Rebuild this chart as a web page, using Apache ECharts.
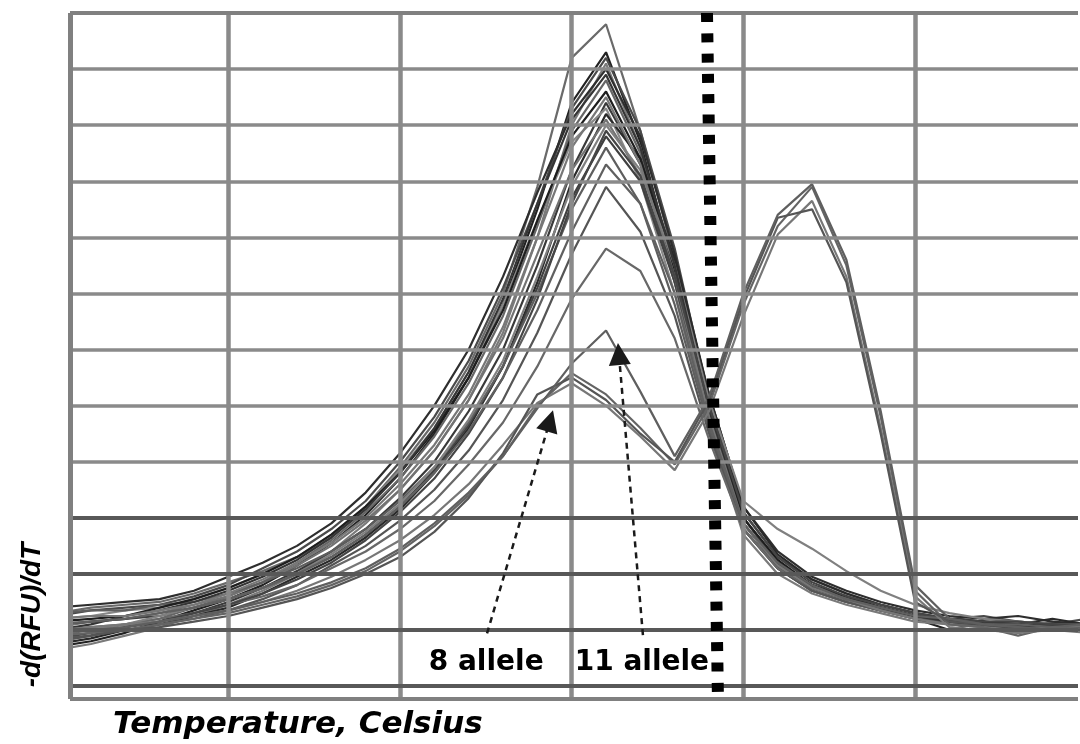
<!DOCTYPE html>
<html>
<head>
<meta charset="utf-8">
<script src="https://cdn.jsdelivr.net/npm/echarts@6/dist/echarts.min.js"></script>
<style>
  html, body { margin: 0; padding: 0; background: #ffffff; }
  #chart { width: 1080px; height: 744px; }
</style>
</head>
<body>
<div id="chart"></div>
<script>
// Melt-curve derivative traces, -d(RFU)/dT against temperature (°C), one reading every 0.2 °C.
const temperatures = [79.0, 79.2, 79.4, 79.6, 79.8, 80.0, 80.2, 80.4, 80.6, 80.8,
                      81.0, 81.2, 81.4, 81.6, 81.8, 82.0, 82.2, 82.4, 82.6, 82.8,
                      83.0, 83.2, 83.4, 83.6, 83.8, 84.0, 84.2, 84.4, 84.6, 84.8, 85.0];

// Single-peak traces (main product melting near 82.2 °C)
const traceM1  = [13, 14, 14.5, 15, 16.5, 18.5, 20.5, 23, 26.5, 32, 39, 47, 57, 70, 89, 112, 118, 99, 76, 50, 30, 22, 18, 16, 14, 12.5, 12, 11.5, 10, 11.5, 11];
const traceM2  = [7, 8, 9.5, 11.5, 13.5, 15.5, 18, 21.5, 25.5, 30.5, 37, 45, 55, 68, 85, 104, 113, 97, 74, 47, 28, 21, 17, 15, 13.5, 12, 10, 11.5, 9.5, 11, 10.5];
const traceM3  = [12.5, 13.5, 14, 14.5, 16, 18, 21, 24, 28, 33, 40, 48, 58, 71, 86, 103, 112, 99, 78, 51, 31, 23, 19, 16.5, 14.5, 13, 12, 12.5, 11.5, 11, 12];
const traceM4  = [6.5, 7.5, 9, 10.5, 12.5, 14.5, 17, 20, 24, 29, 35, 42, 51, 63, 80, 100, 111, 96, 72, 46, 27, 20, 16.5, 14.5, 13, 11.5, 11, 10.5, 9.5, 10.5, 9.5];
const traceM5  = [14, 14.5, 15, 15.5, 17, 19.5, 22, 25, 29, 34.5, 41.5, 50, 60, 73, 88, 102, 110, 98, 77, 52, 32, 24, 19.5, 17, 15, 13.5, 12.5, 12, 12.5, 11.5, 11];
const traceM6  = [9, 10, 11, 12, 14, 16, 18.5, 22, 26, 31, 37, 44.5, 54, 66, 82, 99, 108, 95, 73, 48, 29, 21.5, 17.5, 15.5, 14, 12.5, 11.5, 11, 11, 10, 10.5];
const traceM7  = [8, 9, 10.5, 11.5, 13, 15, 17.5, 20.5, 24, 28, 33.5, 40, 49, 60, 75, 92, 104, 93, 74, 49, 30, 22, 18, 15.5, 14, 12.5, 11.5, 10.5, 10.5, 11, 10];
const traceM8  = [12, 12.5, 13.5, 14, 15.5, 17.5, 20, 23, 27, 32, 38.5, 46, 56, 68, 83, 97, 103, 90, 70, 46, 28, 21, 17, 15, 13.5, 12, 11.5, 11, 11.5, 11, 10.5];
const traceM9  = [7.5, 8.5, 10, 11, 12.5, 14, 16.5, 19.5, 22.5, 26.5, 31.5, 38, 46, 57, 72, 90, 102, 94, 76, 52, 32, 23.5, 19, 16.5, 14.5, 13, 12, 11.5, 11, 12, 11];
const traceM10 = [10.5, 11.5, 12, 13, 14.5, 16, 18.5, 21.5, 25, 29.5, 35, 42, 51, 62, 77, 92, 101, 91, 72, 48, 29, 21.5, 17.5, 15.5, 14, 12.5, 11.5, 11, 10.5, 10.5, 10];
const traceM11 = [11, 11.5, 12, 12.5, 14, 15.5, 17.5, 20, 23, 27, 32, 38.5, 46.5, 57, 71, 87, 98, 90, 72, 49, 30, 22, 18, 15.5, 14, 12.5, 11.5, 11, 11, 10.5, 10.5];
const traceM12 = [13, 13.5, 13.5, 14.5, 15, 16.5, 18.5, 21, 24, 28, 33, 39, 47, 57, 70, 85, 96, 86, 68, 46, 28, 21, 17, 15, 13.5, 12.5, 11.5, 11, 11, 11, 10.5];
const traceM13 = [8, 9, 10, 11, 12, 13.5, 15.5, 18, 21.5, 25, 29.5, 35, 42, 51, 63, 77, 89, 81, 66, 45, 28, 21, 17, 15, 13.5, 12, 11.5, 11, 10.5, 10.5, 10.5];
const traceM14 = [10, 10.5, 11, 12, 13, 14.5, 16, 18, 21, 24, 28, 33, 39.5, 47, 57, 69, 78, 74, 62, 44, 28, 21, 17.5, 15.5, 14, 12.5, 12, 11.5, 11, 11, 11];
const traceM15 = [11.5, 12, 12.5, 14, 15.5, 17.5, 20, 23, 27, 32, 38, 45.5, 55, 67, 83, 98, 106, 94, 74, 50, 30, 22.5, 18, 16, 14, 12.5, 12, 11.5, 11, 11, 11];
const traceM16 = [9.5, 10, 11, 12.5, 14, 15.5, 17.5, 20, 23.5, 27.5, 32.5, 39, 47.5, 58, 73, 89, 100, 92, 75, 51, 33, 28, 24.5, 20.5, 17, 14.5, 13, 12, 11.5, 11, 11];
const traceM17 = [10, 11, 12.5, 13.5, 15, 17, 19.5, 22.5, 26.5, 31.5, 38, 46, 56, 69, 86, 101, 109, 96, 75, 49, 29, 21.5, 17.5, 15.5, 14, 12.5, 11.5, 11, 10.5, 11, 10.5];
const traceM18 = [12, 12.5, 12.5, 13.5, 14.5, 16.5, 19, 22, 25.5, 30, 36, 43, 52, 64, 80, 96, 105, 93, 73, 48, 29, 21.5, 17.5, 15.5, 13.5, 12, 11, 10.5, 10, 10.5, 10.5];
const traceM19 = [8.5, 9.5, 10.5, 11.5, 13, 14.5, 16.5, 19, 22, 26, 31, 37, 45, 55, 69, 86, 99, 91, 73, 50, 31, 23, 18.5, 16, 14.5, 13, 12, 11.5, 11.5, 11, 11];
const traceM20 = [11, 11.5, 12, 13, 14, 15.5, 17.5, 20, 23, 27, 32, 38, 45.5, 55, 67, 81, 93, 86, 70, 47, 29, 22, 18, 15.5, 14, 12.5, 12, 11, 11, 10.5, 11];

// Two-peak traces: 8-allele and 11-allele products with a second peak near 83.4 °C
const trace8a  = [9, 9.5, 10, 11, 12, 13, 14.5, 16, 18, 20.5, 24, 28.5, 34, 41, 50, 55.8, 52, 46, 39.5, 50, 68, 82, 89, 75, 48, 17, 11, 10.5, 9, 10.5, 10];
const trace8b  = [10, 10.5, 11, 11.5, 12.5, 13.5, 15, 17, 19.5, 22.5, 26, 30.5, 36, 43, 50.5, 54, 50, 44.5, 38.5, 49, 66, 80.5, 86.5, 73, 46, 16, 10.5, 10, 9.5, 10, 9.5];
const trace8c  = [8.5, 9, 10, 10.5, 11.5, 12.5, 14, 15.5, 17.5, 20, 23, 27.5, 33.5, 41.5, 52, 55, 51, 45, 40, 51, 69, 83.5, 85, 72, 45, 15, 11.5, 11, 10.5, 10, 10];
const trace11  = [9.5, 10, 10.5, 11.5, 12.5, 13.5, 15, 16.5, 18.5, 21, 24.5, 29, 34.5, 41, 49.5, 57.5, 63.4, 52.5, 41, 51.5, 70, 84, 89.5, 76, 49, 18, 12, 11, 10.5, 10, 10.5];

const traces = [
  { values: traceM1,  color: '#6a6a6a' },
  { values: traceM2,  color: '#222222' },
  { values: traceM3,  color: '#4a4a4a' },
  { values: traceM4,  color: '#7a7a7a' },
  { values: traceM5,  color: '#2e2e2e' },
  { values: traceM6,  color: '#666666' },
  { values: traceM7,  color: '#3a3a3a' },
  { values: traceM8,  color: '#888888' },
  { values: traceM9,  color: '#2a2a2a' },
  { values: traceM10, color: '#727272' },
  { values: traceM11, color: '#404040' },
  { values: traceM12, color: '#5e5e5e' },
  { values: traceM13, color: '#555555' },
  { values: traceM14, color: '#686868' },
  { values: traceM15, color: '#1e1e1e' },
  { values: traceM16, color: '#808080' },
  { values: traceM17, color: '#353535' },
  { values: traceM18, color: '#777777' },
  { values: traceM19, color: '#454545' },
  { values: traceM20, color: '#606060' },
  { values: trace8a,  color: '#646464' },
  { values: trace8b,  color: '#777777' },
  { values: trace8c,  color: '#555555' },
  { values: trace11,  color: '#5f5f5f' }
];

// Grid rulings
const gridTemps = [80, 81, 82, 83, 84];
const gridLevelsLight = [40, 50, 60, 70, 80, 90, 100, 110];
const gridLevelsDark = [0, 10, 20, 30];

// Annotation texts
const alleleLabels = ['8 allele', '11 allele'];

const X_MIN = 79.078, X_MAX = 84.949;
const Y_MIN = -2.3, Y_MAX = 120;

const series = [];

// rulings and frame
const ruleData = [];
gridTemps.forEach(t => ruleData.push({ xAxis: t, lineStyle: { color: '#8a8a8a', width: 4.5, type: 'solid' } }));
gridLevelsLight.forEach(v => ruleData.push({ yAxis: v, lineStyle: { color: '#8a8a8a', width: 3.5, type: 'solid' } }));
gridLevelsDark.forEach(v => ruleData.push({ yAxis: v, lineStyle: { color: '#585858', width: 4, type: 'solid' } }));
ruleData.push({ yAxis: Y_MAX, lineStyle: { color: '#808080', width: 4, type: 'solid' } });
ruleData.push({ yAxis: Y_MIN, lineStyle: { color: '#808080', width: 4, type: 'solid' } });
ruleData.push({ xAxis: X_MIN, lineStyle: { color: '#808080', width: 5, type: 'solid' } });
ruleData.push({ xAxis: X_MAX, lineStyle: { color: '#808080', width: 3, type: 'solid' } });

series.push({
  type: 'line',
  data: [],
  z: 1,
  silent: true,
  markLine: {
    silent: true,
    animation: false,
    symbol: 'none',
    label: { show: false },
    emphasis: { disabled: true },
    data: ruleData
  }
});

traces.forEach((tr, k) => {
  series.push({
    type: 'line',
    name: 'trace' + k,
    data: temperatures.map((t, i) => [t, tr.values[i]]),
    showSymbol: false,
    smooth: false,
    silent: true,
    z: 3,
    lineStyle: { color: tr.color, width: 2.2 },
    emphasis: { disabled: true }
  });
});

// thick dotted marker line and the allele annotations
series.push({
  type: 'line',
  data: [],
  z: 5,
  silent: true,
  markLine: {
    silent: true,
    animation: false,
    label: { show: false },
    emphasis: { disabled: true },
    data: [
      [
        { coord: [82.788, Y_MAX], symbol: 'none', lineStyle: { color: '#000000', width: 12, type: [9, 11.3], cap: 'butt' } },
        { coord: [82.852, Y_MIN], symbol: 'none' }
      ],
      [
        { coord: [81.507, 9.4], symbol: 'none', lineStyle: { color: '#1a1a1a', width: 2.5, type: [6, 5] } },
        { coord: [81.873, 47.3], symbol: 'triangle', symbolSize: 22 }
      ],
      [
        { coord: [82.415, 9.1], symbol: 'none', lineStyle: { color: '#1a1a1a', width: 2.5, type: [6, 5] } },
        { coord: [82.275, 59.2], symbol: 'triangle', symbolSize: 22 }
      ]
    ]
  },
  markPoint: {
    silent: true,
    animation: false,
    symbol: 'circle',
    symbolSize: 0,
    label: {
      show: true,
      position: 'inside',
      formatter: '{b}',
      color: '#000000',
      fontFamily: 'DejaVu Sans',
      fontWeight: 'bold',
      fontSize: 28
    },
    data: [
      { name: alleleLabels[0], coord: [81.502, 4.1] },
      { name: alleleLabels[1], coord: [82.409, 4.1] }
    ]
  }
});

const chart = echarts.init(document.getElementById('chart'), null, { renderer: 'canvas' });
chart.setOption({
  animation: false,
  backgroundColor: '#ffffff',
  grid: { left: 70, right: 2, top: 13, bottom: 45 },
  xAxis: {
    type: 'value', min: X_MIN, max: X_MAX,
    axisLine: { show: false }, axisTick: { show: false },
    axisLabel: { show: false }, splitLine: { show: false }
  },
  yAxis: {
    type: 'value', min: Y_MIN, max: Y_MAX,
    axisLine: { show: false }, axisTick: { show: false },
    axisLabel: { show: false }, splitLine: { show: false }
  },
  graphic: [
    {
      type: 'text',
      x: 113, y: 725,
      style: {
        text: 'Temperature, Celsius',
        fill: '#000000',
        font: 'italic bold 31px "DejaVu Sans"',
        textAlign: 'left',
        textVerticalAlign: 'middle'
      }
    },
    {
      type: 'text',
      x: 32, y: 615,
      rotation: Math.PI / 2,
      style: {
        text: '-d(RFU)/dT',
        fill: '#000000',
        font: 'italic bold 28px "Liberation Sans"',
        textAlign: 'center',
        textVerticalAlign: 'middle'
      }
    }
  ],
  series: series
});
</script>
</body>
</html>
